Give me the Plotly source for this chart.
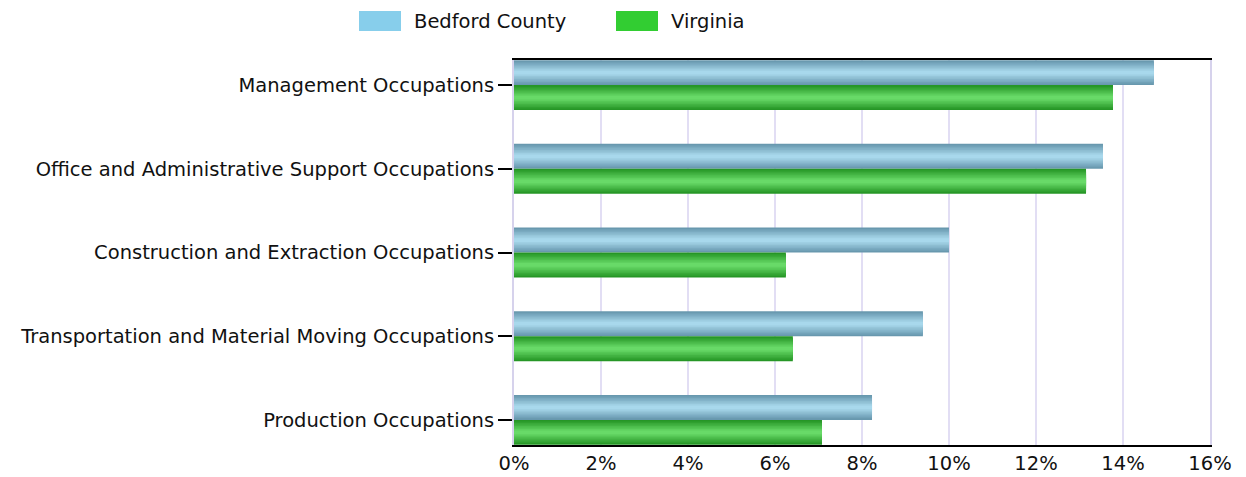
import plotly.graph_objects as go

categories = [
    "Management Occupations",
    "Office and Administrative Support Occupations",
    "Construction and Extraction Occupations",
    "Transportation and Material Moving Occupations",
    "Production Occupations",
]
bedford = [14.71, 13.54, 10.0, 9.40, 8.23]
virginia = [13.77, 13.15, 6.25, 6.41, 7.08]
x_ticks = [0, 2, 4, 6, 8, 10, 12, 14, 16]
x_tick_labels = ["0%", "2%", "4%", "6%", "8%", "10%", "12%", "14%", "16%"]

FONT = "DejaVu Sans, Verdana, sans-serif"
FS = 19.5
BAR_W = 0.2985
N_LAYERS = 8

# page body has an 8px margin; compensate so the plot lands where the reference has it
OFF = 8
L, R, T, B = 514 - OFF, 36, 60 - OFF, 32
W, H = 1246 - OFF, 477 - OFF
PW, PH = W - L - R, H - T - B


def lerp(c1, c2, t):
    return "rgb({},{},{})".format(*[round(a + (b - a) * t) for a, b in zip(c1, c2)])


series = [
    ("Bedford County", bedford, -BAR_W, (104, 152, 174), (168, 216, 236)),
    ("Virginia", virginia, 0.0, (38, 150, 38), (104, 218, 104)),
]

fig = go.Figure()
for name, vals, off, dark, light in series:
    for i in range(N_LAYERS):
        t = i / (N_LAYERS - 1)
        w = BAR_W * (1 - 0.85 * t)
        o = off + (BAR_W - w) / 2
        fig.add_trace(go.Bar(
            y=categories, x=vals, orientation="h", name=name,
            width=[w] * len(vals), offset=[o] * len(vals),
            marker=dict(color=lerp(dark, light, t), line=dict(width=0)),
            showlegend=False, hoverinfo="x+y" if i == 0 else "skip",
        ))

# custom legend with wide swatches (positions in page pixels)
legend_items = [("Bedford County", "#87CEEB", 359, 412), ("Virginia", "#32CD32", 616, 669)]


def px_x(x):
    return (x - OFF - L) / PW


def px_y(y):
    return (H - B - (y - OFF)) / PH


for label, col, sx, tx in legend_items:
    fig.add_shape(type="rect", xref="paper", yref="paper",
                  x0=px_x(sx), x1=px_x(sx + 42), y0=px_y(31), y1=px_y(11),
                  fillcolor=col, line=dict(width=0))
    fig.add_annotation(text=label, xref="paper", yref="paper",
                       x=px_x(tx), y=px_y(21),
                       xanchor="left", yanchor="middle", showarrow=False,
                       font=dict(family=FONT, size=FS, color="#111"))

fig.update_layout(
    width=W, height=H,
    margin=dict(l=L, r=R, t=T, b=B, pad=0, autoexpand=False),
    barmode="overlay",
    plot_bgcolor="white", paper_bgcolor="white",
    font=dict(family=FONT, size=FS, color="#111"),
    showlegend=False,
)
fig.update_xaxes(
    range=[0, 16], tickvals=x_ticks, ticktext=x_tick_labels,
    showgrid=True, gridcolor="#e2def4", gridwidth=2,
    showline=True, linecolor="black", linewidth=2, mirror=True,
    ticks="", zeroline=False, automargin=False,
    tickfont=dict(family=FONT, size=FS),
)
fig.update_yaxes(
    range=[4.3, -0.3], showgrid=False, zeroline=False,
    showline=True, linecolor="#d6d2ec", linewidth=2, mirror=True,
    ticks="outside", ticklen=14, tickwidth=2, tickcolor="black",
    automargin=False, tickfont=dict(family=FONT, size=FS),
)
fig.write_html("out.html")
